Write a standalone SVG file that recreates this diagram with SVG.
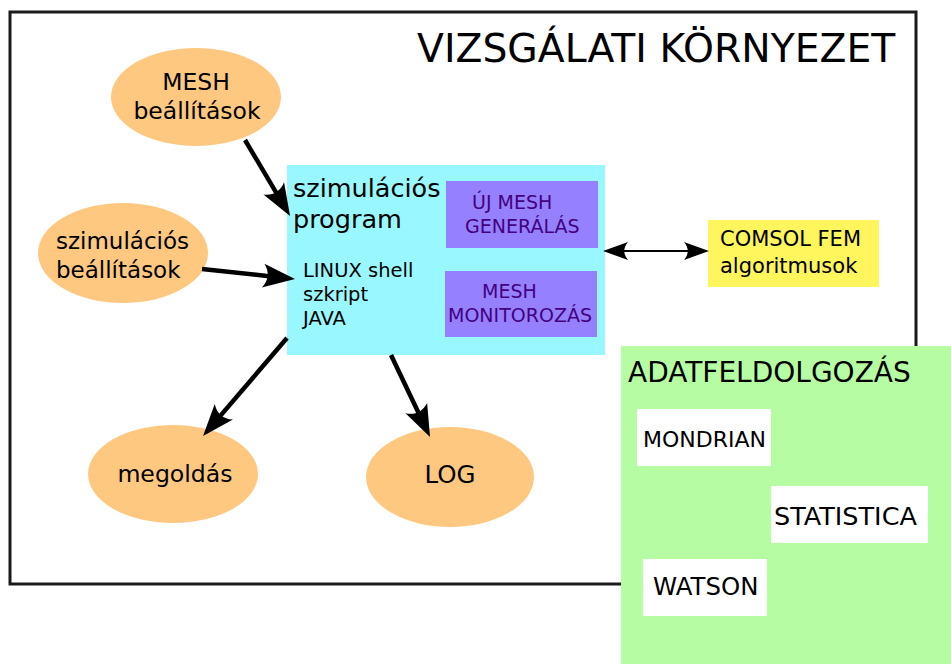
<svg xmlns="http://www.w3.org/2000/svg" width="951" height="664" viewBox="0 0 951 664">
<style>
text{font-family:"DejaVu Sans",Verdana,sans-serif;fill:#000}
.ell{fill:#ffc880}
.pur{fill:#9580ff}
.pt{fill:#44007f;font-size:19px}
.wb{fill:#fff}
.thick{stroke:#000;stroke-width:4.5;fill:none}
.thin{stroke:#000;stroke-width:2;fill:none}
</style>
<defs>
<marker id="ah" markerUnits="userSpaceOnUse" viewBox="-33 -14 35 28" markerWidth="35" markerHeight="28" refX="-15" refY="0" orient="auto">
<path d="M0 0 L-32 -12 C-26 -4 -26 4 -32 12 Z" fill="#000"/>
</marker>
<marker id="ahs" markerUnits="userSpaceOnUse" viewBox="-27 -11 29 22" markerWidth="29" markerHeight="22" refX="-10" refY="0" orient="auto-start-reverse">
<path d="M0 0 L-25 -9 C-20 -3 -20 3 -25 9 Z" fill="#000"/>
</marker>
</defs>
<rect width="951" height="664" fill="#fff"/>
<g id="frame">
<rect x="10" y="12" width="906" height="572" fill="none" stroke="#1a1a1a" stroke-width="3"/>
<text x="417" y="62" font-size="39.3">VIZSGÁLATI KÖRNYEZET</text>
</g>
<g id="mesh-beallitasok">
<ellipse class="ell" cx="196" cy="97" rx="85" ry="49"/>
<text x="196" y="90" font-size="23.5" text-anchor="middle">MESH</text>
<text x="197" y="119" font-size="23.5" text-anchor="middle">beállítások</text>
</g>
<g id="szim-beallitasok">
<ellipse class="ell" cx="123" cy="253" rx="85" ry="50"/>
<text x="56" y="249" font-size="23">szimulációs</text>
<text x="56" y="278" font-size="23">beállítások</text>
</g>
<g id="megoldas">
<ellipse class="ell" cx="173" cy="474" rx="85" ry="49"/>
<text x="175" y="482" font-size="23.6" text-anchor="middle">megoldás</text>
</g>
<g id="log">
<ellipse class="ell" cx="450" cy="477" rx="84" ry="50"/>
<text x="450" y="483" font-size="24.5" text-anchor="middle">LOG</text>
</g>
<g id="szim-program">
<rect x="287" y="165" width="318" height="190" fill="#99f8ff"/>
<text x="293" y="197" font-size="25.5">szimulációs</text>
<text x="293" y="228" font-size="25.5">program</text>
<text x="303" y="277" font-size="19.5">LINUX shell</text>
<text x="303" y="301" font-size="19.5">szkript</text>
<text x="303" y="325" font-size="19.5">JAVA</text>
</g>
<g id="uj-mesh">
<rect class="pur" x="446" y="181" width="152" height="67"/>
<text class="pt" x="472" y="209">ÚJ MESH</text>
<text class="pt" x="465" y="233">GENERÁLÁS</text>
</g>
<g id="mesh-monitor">
<rect class="pur" x="445" y="271" width="152" height="66"/>
<text class="pt" x="482" y="298">MESH</text>
<text class="pt" x="448" y="322">MONITOROZÁS</text>
</g>
<g id="comsol">
<rect x="708" y="220" width="171" height="67" fill="#fff55c"/>
<text x="720" y="246" font-size="21">COMSOL FEM</text>
<text x="720" y="273" font-size="21">algoritmusok</text>
</g>
<g id="adatfeldolgozas">
<rect x="621" y="346" width="330" height="318" fill="#b5fca2"/>
<text x="628" y="382" font-size="28">ADATFELDOLGOZÁS</text>
</g>
<g id="mondrian">
<rect class="wb" x="637" y="409" width="134" height="57"/>
<text x="643" y="447" font-size="22">MONDRIAN</text>
</g>
<g id="statistica">
<rect class="wb" x="771" y="486" width="157" height="57"/>
<text x="774" y="525" font-size="25.5">STATISTICA</text>
</g>
<g id="watson">
<rect class="wb" x="643" y="559" width="124" height="57"/>
<text x="653" y="595" font-size="24.4">WATSON</text>
</g>
<g id="connectors">
<line class="thick" x1="245" y1="140" x2="282.4" y2="203.1" marker-end="url(#ah)"/>
<line class="thick" x1="202" y1="269" x2="280.1" y2="277.4" marker-end="url(#ah)"/>
<line class="thick" x1="287" y1="338" x2="212.8" y2="424.6" marker-end="url(#ah)"/>
<line class="thick" x1="391" y1="355" x2="423.6" y2="423.5" marker-end="url(#ah)"/>
<line class="thin" x1="613" y1="251" x2="699" y2="251" marker-start="url(#ahs)" marker-end="url(#ahs)"/>
</g>
</svg>
